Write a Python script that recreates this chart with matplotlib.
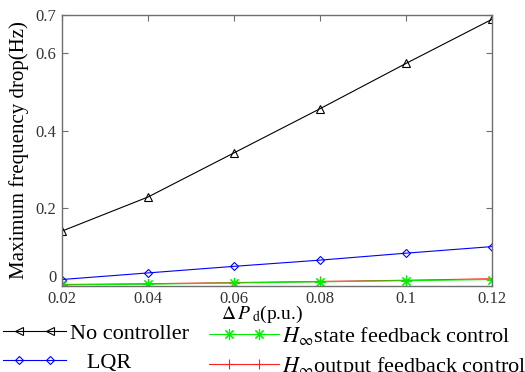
import matplotlib
matplotlib.use("Agg")
import matplotlib.pyplot as plt
from matplotlib.lines import Line2D
from matplotlib.legend_handler import HandlerLine2D, HandlerTuple

plt.rcParams['font.family'] = ['Liberation Serif', 'DejaVu Serif']
plt.rcParams['mathtext.fontset'] = 'stix'

# data
dP = [0.02, 0.04, 0.06, 0.08, 0.10, 0.12]
no_ctrl = [0.141, 0.229, 0.343, 0.457, 0.574, 0.688]
lqr = [0.016, 0.033, 0.050, 0.066, 0.084, 0.101]
hinf_state = [0.002, 0.004, 0.007, 0.010, 0.013, 0.016]
hinf_output = [0.003, 0.005, 0.008, 0.011, 0.014, 0.018]

xticks = [0.02, 0.04, 0.06, 0.08, 0.10, 0.12]
xticklabels = ['0.02', '0.04', '0.06', '0.08', '0.1', '0.12']
yticks = [0, 0.2, 0.4, 0.6, 0.7]
yticklabels = ['0', '0.2', '0.4', '0.6', '0.7']

labels = ['No controller', '   LQR', r'$H_\infty$state feedback control',
          r'$H_\infty$output feedback control']

fig = plt.figure(figsize=(5.25, 3.72), dpi=100)
ax = fig.add_axes([0.118, 0.232, 0.819, 0.7285])

lw = 0.8
ax.plot(dP, no_ctrl, color='black', lw=lw, marker='^', ms=6, mfc='none', mew=0.8)
ax.plot(dP, lqr, color='blue', lw=lw, marker='D', ms=4.5, mfc='none', mew=0.8)
ax.plot(dP, hinf_output, color='#ff2020', lw=lw, marker='+', ms=7, mew=0.8)
ax.plot(dP, hinf_state, color='#00ee00', lw=lw, marker=(8, 2, 0), ms=8, mew=0.8)

ax.set_xlim(0.02, 0.12)
ax.set_ylim(0, 0.7)
ax.set_xticks(xticks)
ax.set_xticklabels(xticklabels)
ax.set_yticks(yticks)
ax.set_yticklabels(yticklabels)

spine_c = '#6e6e6e'
for s in ax.spines.values():
    s.set_color(spine_c)
    s.set_linewidth(1.0)
ax.tick_params(direction='in', top=True, right=True, length=4, width=0.8,
               colors=spine_c, labelcolor='#333333', labelsize=12, pad=4)
ax.yaxis.get_major_ticks()[0].label1.set_verticalalignment('bottom')

ax.set_xlabel(r'$\Delta\,P\,$' + r'$_{\rm d}$' + '(p.u.)', fontsize=14)
ax.xaxis.set_label_coords(0.465, -0.068)
ax.set_ylabel('Maximum frequency drop(Hz)', fontsize=15, labelpad=5)

# legend handles
def make_handle(color, marker, ms):
    ln = Line2D([], [], color=color, lw=lw)
    mk = Line2D([], [], color=color, lw=0, marker=marker, ms=ms, mfc='none', mew=0.8)
    return (ln, mk), mk

h1, m1 = make_handle('black', '<', 6)
h2, m2 = make_handle('blue', 'D', 4.5)
h3, m3 = make_handle('#00ee00', (8, 2, 0), 8)
h4, m4 = make_handle('#ff2020', '+', 7)

hmap1 = {tuple: HandlerTuple(ndivide=1, pad=0)}
hmap2 = {tuple: HandlerTuple(ndivide=1, pad=0)}
for m in (m1, m2):
    hmap1[m] = HandlerLine2D(numpoints=2, marker_pad=0.72)
for m in (m3, m4):
    hmap2[m] = HandlerLine2D(numpoints=2, marker_pad=0.9)

leg1 = fig.legend([h1, h2], labels[:2], handler_map=hmap1, loc='upper left',
                  bbox_to_anchor=(0.005, 0.130), frameon=False, fontsize=16,
                  handlelength=2.85, handletextpad=0.18, labelspacing=0.37,
                  borderpad=0, borderaxespad=0)
leg2 = fig.legend([h3, h4], labels[2:], handler_map=hmap2, loc='upper left',
                  bbox_to_anchor=(0.398, 0.126), frameon=False, fontsize=16,
                  handlelength=3.15, handletextpad=0.12, labelspacing=0.335,
                  borderpad=0, borderaxespad=0)

fig.savefig('out.png', dpi=100)
